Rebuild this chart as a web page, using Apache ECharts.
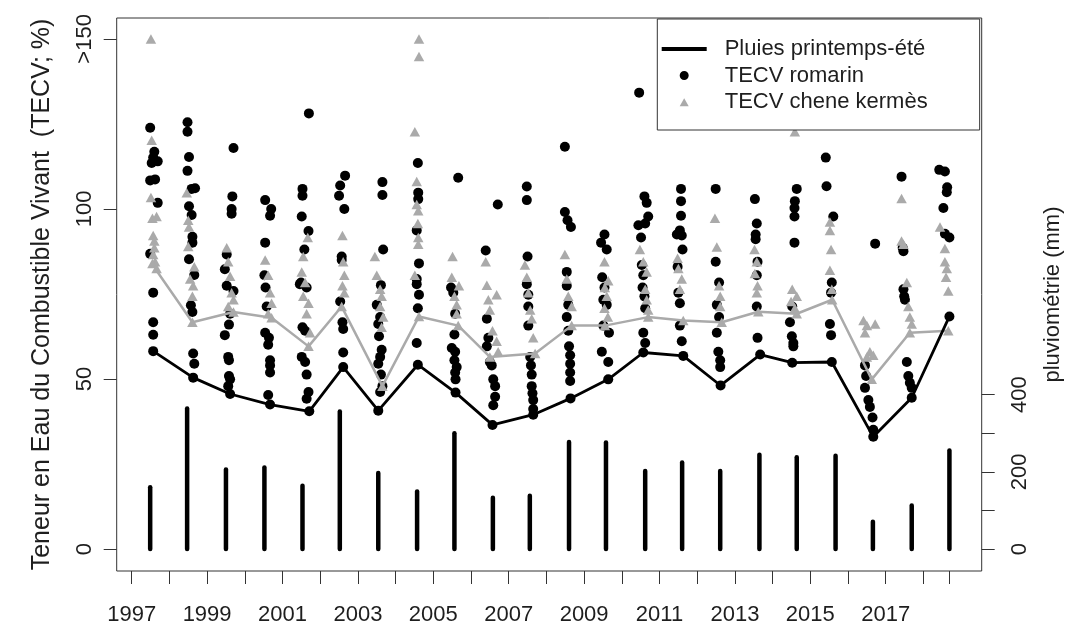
<!DOCTYPE html>
<html>
<head>
<meta charset="utf-8">
<script src="https://cdn.jsdelivr.net/npm/echarts@6/dist/echarts.min.js"></script>
<style>
html,body{margin:0;padding:0;background:#fff;}
#chart{width:1073px;height:626px;}
</style>
</head>
<body>
<div id="chart"></div>
<script>
// ---- Data (x = decimal year) ----
const yearTicks = [1997,1998,1999,2000,2001,2002,2003,2004,2005,2006,2007,2008,2009,2010,2011,2012,2013,2014,2015,2016,2017,2018,2018.69];
const yearLabels = [1997,1999,2001,2003,2005,2007,2009,2011,2013,2015,2017];
const tecvTicks = [0,50,100,150];
const rainTicks = [0,100,200,300,400];
const rainLabels = [0,200,400];

const rainDates = [1997.49,1998.47,1999.50,2000.52,2001.53,2002.52,2003.54,2004.57,2005.56,2006.58,2007.56,2008.60,2009.58,2010.62,2011.60,2012.61,2013.65,2014.64,2015.67,2016.66,2017.69,2018.69];
const rainMm = [160,364,206,211,164,356,197,149,300,133,138,277,276,202,224,202,244,238,242,71,113,255];

const pluiesLine = [[1997.57,58.2],[1998.63,50.4],[1999.61,45.6],[2000.67,42.5],[2001.71,40.5],[2002.61,53.5],[2003.54,40.7],[2004.59,54.2],[2005.59,46.0],[2006.57,36.5],[2007.65,39.5],[2008.64,44.3],[2009.64,49.9],[2010.57,57.8],[2011.63,56.8],[2012.62,48.1],[2013.67,57.2],[2014.52,54.8],[2015.57,55.0],[2016.67,33.0],[2017.69,44.5],[2018.69,68.4]];

const greyLine = [[1997.62,82.5],[1998.61,66.7],[1999.70,69.7],[2000.71,68.0],[2001.69,59.6],[2002.57,71.3],[2003.65,47.9],[2004.62,68.4],[2005.66,65.7],[2006.50,56.5],[2007.70,57.5],[2008.67,65.7],[2009.55,65.7],[2010.70,68.2],[2011.63,67.2],[2012.65,66.7],[2013.62,69.8],[2014.64,69.2],[2015.58,73.3],[2016.63,49.9],[2017.64,63.6],[2018.66,64.2]];

const romarin = [
[1997.49,123.9],[1997.60,116.8],[1997.57,115.1],[1997.53,113.5],[1997.69,114.0],[1997.49,108.4],[1997.62,108.7],[1997.69,101.8],[1997.49,86.8],[1997.57,75.4],[1997.57,66.7],[1997.57,63.0],[1997.57,58.2],
[1998.48,125.5],[1998.48,122.7],[1998.52,115.3],[1998.48,111.2],[1998.68,106.1],[1998.59,105.9],[1998.52,100.8],[1998.59,98.2],[1998.61,91.8],[1998.61,90.1],[1998.52,85.2],[1998.66,80.6],[1998.57,71.7],[1998.61,69.7],[1998.63,57.5],[1998.66,54.5],[1998.63,50.4],
[1999.70,117.9],[1999.67,103.7],[1999.65,100.0],[1999.65,98.6],[1999.52,86.6],[1999.47,82.3],[1999.52,77.4],[1999.70,75.9],[1999.61,69.2],[1999.58,66.0],[1999.47,62.9],[1999.56,56.5],[1999.58,55.5],[1999.58,50.9],[1999.61,49.9],[1999.56,47.9],[1999.61,45.6],
[2000.54,102.6],[2000.70,100.0],[2000.67,98.0],[2000.54,90.1],[2000.52,80.5],[2000.55,76.9],[2000.58,71.3],[2000.54,63.6],[2000.64,62.1],[2000.62,60.1],[2000.67,55.5],[2000.67,54.0],[2000.67,51.9],[2000.62,45.3],[2000.67,42.5],
[2001.70,128.1],[2001.53,105.9],[2001.53,103.9],[2001.51,97.8],[2001.69,93.5],[2001.58,88.1],[2001.49,78.4],[2001.46,77.9],[2001.64,76.9],[2001.53,65.2],[2001.60,64.2],[2001.51,56.5],[2001.60,55.0],[2001.64,51.3],[2001.69,46.2],[2001.64,44.2],[2001.71,40.5],
[2002.66,109.8],[2002.53,106.9],[2002.50,103.9],[2002.64,100.0],[2002.57,86.0],[2002.57,85.0],[2002.53,72.8],[2002.59,66.7],[2002.61,64.7],[2002.61,57.8],[2002.61,53.5],
[2003.65,107.9],[2003.65,104.1],[2003.67,88.1],[2003.61,77.6],[2003.50,71.8],[2003.59,68.2],[2003.54,66.2],[2003.56,62.6],[2003.63,58.6],[2003.59,56.5],[2003.54,54.5],[2003.61,51.3],[2003.65,47.9],[2003.59,46.2],[2003.54,40.7],
[2004.59,113.5],[2004.60,104.8],[2004.60,102.9],[2004.56,93.7],[2004.62,84.0],[2004.56,79.4],[2004.56,77.9],[2004.62,74.8],[2004.59,70.8],[2004.56,60.6],[2004.59,54.2],
[2005.66,109.2],[2005.47,76.9],[2005.53,75.4],[2005.58,69.2],[2005.56,63.1],[2005.49,59.1],[2005.58,58.0],[2005.56,55.5],[2005.62,53.5],[2005.58,51.9],[2005.59,49.9],[2005.59,46.0],
[2006.71,101.3],[2006.39,87.8],[2006.42,67.7],[2006.46,62.1],[2006.42,59.6],[2006.50,55.0],[2006.55,54.0],[2006.59,49.9],[2006.64,47.9],[2006.64,44.8],[2006.59,42.3],[2006.57,36.5],
[2007.48,106.6],[2007.48,102.6],[2007.50,86.0],[2007.48,77.9],[2007.52,74.8],[2007.52,71.3],[2007.52,65.7],[2007.57,56.5],[2007.59,54.0],[2007.61,51.3],[2007.61,47.9],[2007.63,45.8],[2007.65,43.8],[2007.65,41.2],[2007.65,39.5],
[2008.49,118.3],[2008.49,99.1],[2008.56,96.7],[2008.65,94.7],[2008.54,81.5],[2008.54,77.4],[2008.58,71.8],[2008.54,68.2],[2008.58,64.2],[2008.60,59.6],[2008.63,57.0],[2008.63,54.5],[2008.63,51.9],[2008.63,49.4],[2008.64,44.3],
[2009.54,92.5],[2009.45,90.1],[2009.60,88.1],[2009.48,79.9],[2009.54,76.9],[2009.51,73.3],[2009.60,71.8],[2009.51,65.7],[2009.66,63.6],[2009.47,58.0],[2009.64,55.0],[2009.64,49.9],
[2010.46,134.2],[2010.60,103.7],[2010.66,101.8],[2010.70,97.8],[2010.62,95.7],[2010.44,95.2],[2010.51,91.6],[2010.53,83.5],[2010.57,80.5],[2010.55,76.9],[2010.60,74.3],[2010.62,70.8],[2010.57,63.6],[2010.62,60.6],[2010.57,57.8],
[2011.57,105.9],[2011.57,102.3],[2011.57,98.0],[2011.54,93.7],[2011.46,92.5],[2011.59,92.2],[2011.61,88.1],[2011.48,83.0],[2011.50,75.4],[2011.54,72.3],[2011.54,65.7],[2011.59,61.1],[2011.63,56.8],
[2012.49,105.9],[2012.49,84.5],[2012.58,78.4],[2012.52,71.8],[2012.58,68.2],[2012.52,63.6],[2012.56,58.0],[2012.61,55.5],[2012.61,53.5],[2012.62,48.1],
[2013.53,102.9],[2013.58,95.7],[2013.55,92.5],[2013.55,91.1],[2013.60,84.5],[2013.58,80.5],[2013.58,71.3],[2013.60,62.1],[2013.67,57.2],
[2014.64,105.9],[2014.59,102.3],[2014.58,100.3],[2014.58,97.8],[2014.58,90.1],[2014.52,71.3],[2014.46,66.7],[2014.51,62.6],[2014.55,60.6],[2014.55,59.6],[2014.52,54.8],
[2015.41,115.1],[2015.43,106.7],[2015.61,97.8],[2015.57,78.4],[2015.55,75.4],[2015.52,66.2],[2015.55,62.9],[2015.57,55.0],
[2016.72,89.8],[2016.45,54.0],[2016.48,50.9],[2016.45,47.4],[2016.54,43.8],[2016.58,41.8],[2016.65,38.7],[2016.67,35.1],[2016.67,33.0],
[2017.42,109.5],[2017.45,88.6],[2017.47,87.6],[2017.47,76.4],[2017.49,74.3],[2017.51,73.3],[2017.56,55.0],[2017.60,50.9],[2017.64,48.9],[2017.69,47.4],[2017.69,44.5],
[2018.42,111.5],[2018.57,111.0],[2018.63,106.4],[2018.62,104.9],[2018.53,100.3],[2018.57,92.7],[2018.69,91.6],[2018.69,68.4]
];

const cheneKermes = [
[1997.51,150],[1997.53,120.2],[1997.51,103.4],[1997.55,97.3],[1997.66,97.8],[1997.57,92.2],[1997.60,90.6],[1997.60,88.6],[1997.57,86.6],[1997.62,84.5],[1997.55,84.0],[1997.66,82.5],
[1998.46,104.8],[1998.50,96.7],[1998.52,94.7],[1998.50,89.0],[1998.66,83.0],[1998.55,79.4],[1998.63,77.4],[1998.61,74.3],[1998.61,66.7],
[1999.52,88.6],[1999.56,84.5],[1999.61,80.2],[1999.65,75.4],[1999.70,73.3],[1999.56,71.3],[1999.70,69.7],
[2000.54,85.0],[2000.62,80.5],[2000.67,75.4],[2000.71,72.3],[2000.62,69.2],[2000.71,68.0],
[2001.67,91.6],[2001.55,86.0],[2001.51,81.5],[2001.60,78.4],[2001.55,74.3],[2001.69,72.3],[2001.64,69.2],[2001.73,63.6],[2001.69,59.6],
[2002.59,92.2],[2002.61,84.5],[2002.64,80.5],[2002.59,77.4],[2002.64,75.4],[2002.57,71.3],
[2003.45,86.0],[2003.50,80.5],[2003.59,76.4],[2003.63,74.3],[2003.59,71.3],[2003.67,68.2],[2003.63,65.2],[2003.65,47.9],
[2004.62,150],[2004.62,144.8],[2004.51,122.7],[2004.56,108.1],[2004.56,101.3],[2004.60,99.5],[2004.59,95.7],[2004.60,91.6],[2004.60,89.6],[2004.51,80.5],[2004.62,68.4],
[2005.51,86.0],[2005.49,79.9],[2005.68,77.4],[2005.56,74.3],[2005.62,71.8],[2005.62,69.2],[2005.66,65.7],
[2006.39,84.5],[2006.42,77.6],[2006.68,74.8],[2006.46,73.3],[2006.50,70.3],[2006.57,64.2],[2006.68,61.1],[2006.72,58.0],[2006.50,56.5],
[2007.43,83.5],[2007.48,79.9],[2007.52,75.4],[2007.57,70.3],[2007.61,67.7],[2007.65,62.1],[2007.70,57.5],
[2008.49,86.6],[2008.54,79.4],[2008.58,74.3],[2008.67,71.3],[2008.67,65.7],
[2009.54,84.5],[2009.64,78.9],[2009.55,76.9],[2009.60,74.3],[2009.54,70.8],[2009.63,68.2],[2009.55,65.7],
[2010.48,88.1],[2010.57,84.5],[2010.66,81.5],[2010.62,76.4],[2010.66,73.3],[2010.70,70.3],[2010.70,68.2],
[2011.48,85.5],[2011.50,82.5],[2011.59,79.4],[2011.54,76.4],[2011.63,67.2],
[2012.47,97.3],[2012.52,88.8],[2012.58,77.4],[2012.61,74.3],[2012.61,71.3],[2012.65,66.7],
[2013.52,88.1],[2013.58,84.5],[2013.53,81.0],[2013.60,77.4],[2013.58,75.4],[2013.62,69.8],
[2014.59,122.7],[2014.52,76.4],[2014.64,74.3],[2014.49,72.8],[2014.59,70.8],[2014.64,69.2],
[2015.52,96.2],[2015.52,93.7],[2015.55,88.1],[2015.52,82.0],[2015.57,76.4],[2015.58,73.3],
[2016.41,67.2],[2016.50,65.7],[2016.72,66.2],[2016.45,63.6],[2016.58,58.0],[2016.67,57.0],[2016.50,56.5],[2016.63,49.9],
[2017.42,103.1],[2017.42,90.6],[2017.47,89.6],[2017.56,78.4],[2017.60,71.3],[2017.64,68.2],[2017.69,66.2],[2017.64,63.6],
[2018.44,94.7],[2018.57,88.4],[2018.57,84.5],[2018.62,82.5],[2018.60,79.9],[2018.66,75.9],[2018.66,64.2]
];

// ---- Chart ----
const FONT = "'Liberation Sans', Arial, sans-serif";
const TXT = '#1e1e1e';
const AX = '#333';
const chart = echarts.init(document.getElementById('chart'), null, {renderer:'canvas'});

const option = {
  backgroundColor: '#fff',
  animation: false,
  textStyle: {fontFamily: FONT},
  grid: {left: 116.7, right: 91.3, top: 18, bottom: 53, show: true, borderColor: AX, borderWidth: 1, backgroundColor: 'transparent'},
  xAxis: {
    type: 'value', min: 1996.602, max: 2019.546,
    splitLine: {show: false},
    axisLine: {show: false, onZero: false},
    axisTick: {show: true, inside: false, length: 13, lineStyle: {color: AX, width: 1}, customValues: yearTicks},
    axisLabel: {show: true, customValues: yearLabels, margin: 33, fontSize: 22, color: TXT, fontFamily: FONT,
      formatter: v => String(Math.round(v))}
  },
  yAxis: [
    {
      type: 'value', position: 'left', min: -6.45, max: 156.15,
      splitLine: {show: false}, axisLine: {show: false, onZero: false},
      axisTick: {show: true, inside: false, length: 13, lineStyle: {color: AX, width: 1}, customValues: tecvTicks},
      axisLabel: {show: true, customValues: tecvTicks, rotate: 90, margin: 21, fontSize: 22, color: TXT, fontFamily: FONT,
        formatter: v => (v >= 150 ? '>150' : String(v))},
      name: 'Teneur en Eau du Combustible Vivant  (TECV; %)',
      nameLocation: 'middle', nameRotate: 90, nameGap: 62,
      nameTextStyle: {fontSize: 25, color: TXT, fontFamily: FONT}
    },
    {
      type: 'value', position: 'right', min: -56.8, max: 1375.5,
      splitLine: {show: false}, axisLine: {show: false, onZero: false},
      axisTick: {show: true, inside: false, length: 13, lineStyle: {color: AX, width: 1}, customValues: rainTicks},
      axisLabel: {show: true, customValues: rainLabels, rotate: 90, margin: 27, fontSize: 22, color: TXT, fontFamily: FONT},
      name: 'pluviométrie (mm)',
      nameLocation: 'middle', nameRotate: 90, nameGap: 60,
      nameTextStyle: {fontSize: 22, color: TXT, fontFamily: FONT}
    }
  ],
  legend: {
    show: true, orient: 'vertical', left: 657.3, top: 19,
    selectedMode: false,
    backgroundColor: '#fff', borderColor: AX, borderWidth: 1,
    padding: [19, 52, 17, 4.4],
    itemWidth: 45, itemHeight: 10, itemGap: 4.5,
    textStyle: {fontSize: 22, color: TXT, fontFamily: FONT, padding: [0, 0, 0, 13]},
    data: [
      {name: 'Pluies printemps-été', icon: 'path://M0,0M45,10M0,3L45,3L45,7L0,7Z', itemStyle: {color: '#000', borderWidth: 0}},
      {name: 'TECV romarin', icon: 'path://M0,0M45,10M22.5,0.5A4.5,4.5,0,1,1,22.49,0.5Z', itemStyle: {color: '#000', opacity: 1}},
      {name: 'TECV chene kermès', icon: 'path://M0,0M45,10M22.5,1.2L27,9.3L18,9.3Z', itemStyle: {color: '#aaaaaa', opacity: 1}}
    ]
  },
  series: [
    {
      name: 'pluviométrie', type: 'custom', xAxisIndex: 0, yAxisIndex: 1,
      data: rainDates.map((d, i) => [d, rainMm[i]]),
      encode: {x: 0, y: 1},
      renderItem: function (params, api) {
        const p0 = api.coord([api.value(0), 0]);
        const p1 = api.coord([api.value(0), api.value(1)]);
        return {type: 'line', shape: {x1: p0[0], y1: p0[1], x2: p1[0], y2: p1[1]},
          style: {stroke: '#000', lineWidth: 4.5, lineCap: 'round'}};
      },
      z: 1
    },
    {
      name: 'TECV romarin', type: 'scatter', yAxisIndex: 0,
      data: romarin, symbol: 'circle', symbolSize: 10,
      itemStyle: {color: '#000', opacity: 1}, z: 2
    },
    {
      name: 'TECV chene kermès', type: 'scatter', yAxisIndex: 0,
      data: cheneKermes, symbol: 'triangle', symbolSize: [10.5, 9.5],
      itemStyle: {color: '#aaaaaa', opacity: 1}, z: 3
    },
    {
      name: 'TECV chene kermès min', type: 'line', yAxisIndex: 0,
      data: greyLine, symbol: 'none', lineStyle: {color: '#aaaaaa', width: 2.5}, z: 4
    },
    {
      name: 'Pluies printemps-été', type: 'line', yAxisIndex: 0,
      data: pluiesLine, symbol: 'none', lineStyle: {color: '#000', width: 2.8}, itemStyle: {color: '#000'}, z: 5
    }
  ]
};
chart.setOption(option);
</script>
</body>
</html>
